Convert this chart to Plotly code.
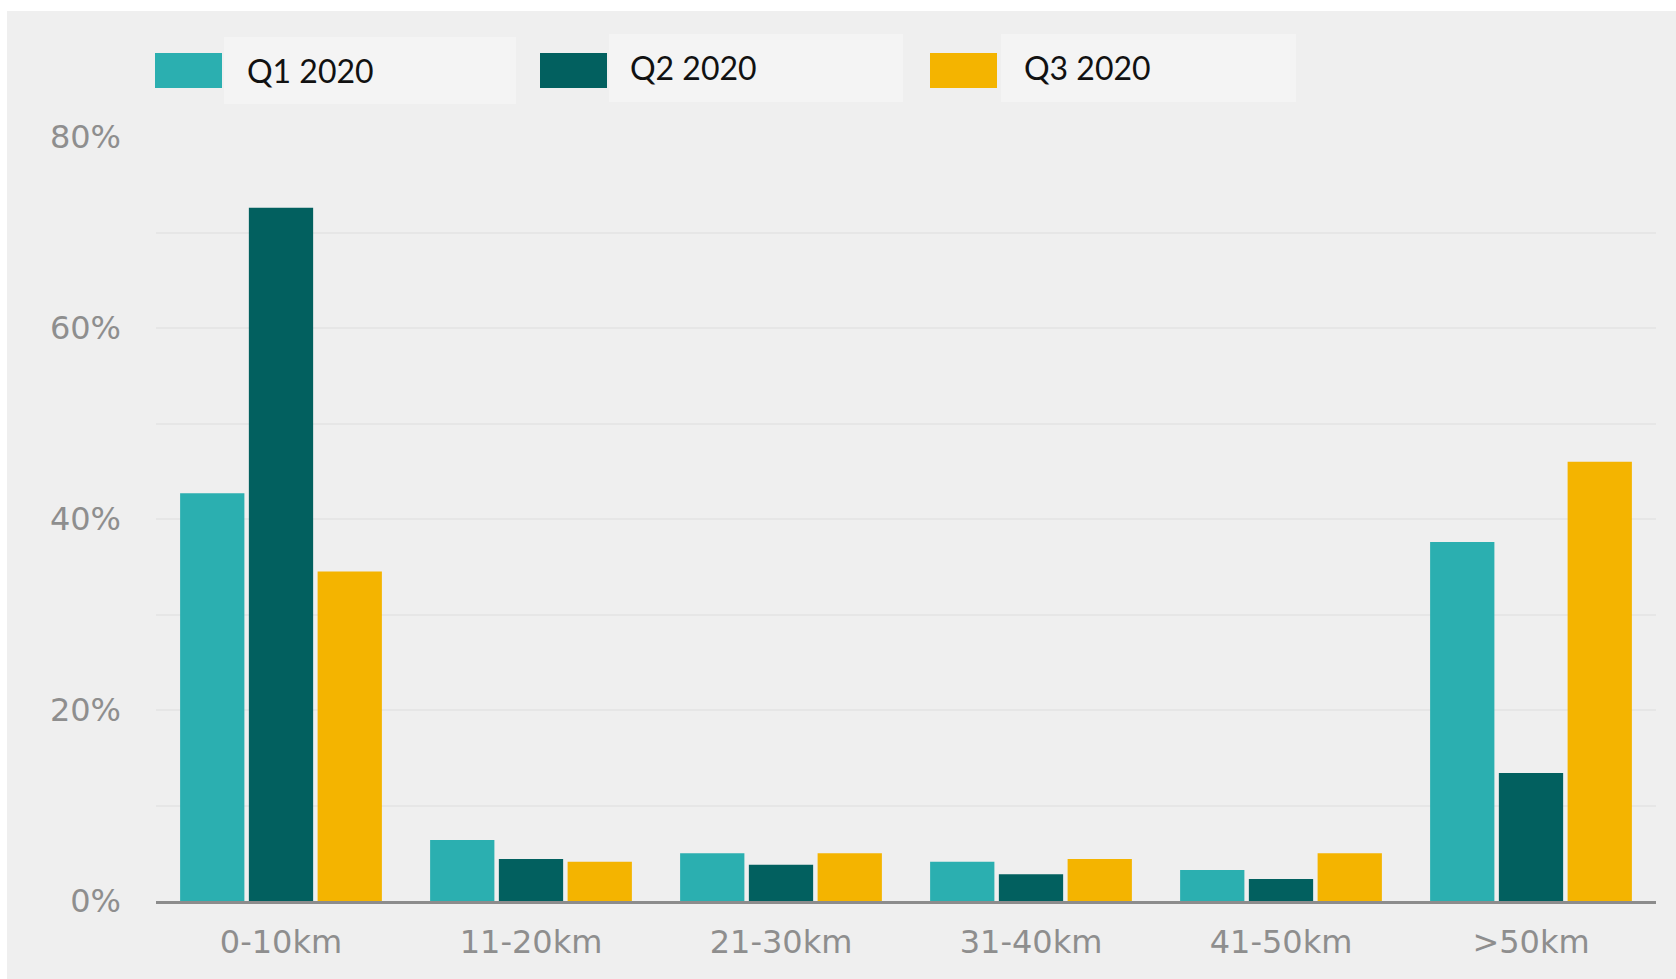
import plotly.graph_objects as go

categories = ["0-10km", "11-20km", "21-30km", "31-40km", "41-50km", ">50km"]
series_names = ["Q1 2020", "Q2 2020", "Q3 2020"]
q1_values = [42.7, 6.4, 5.0, 4.1, 3.25, 37.6]
q2_values = [72.6, 4.4, 3.8, 2.8, 2.3, 13.4]
q3_values = [34.5, 4.1, 5.0, 4.4, 5.0, 46.0]
colors = ["#2BAFB0", "#02605F", "#F4B400"]
y_tickvals = [0, 20, 40, 60, 80]
y_ticktext = ["0%", "20%", "40%", "60%", "80%"]

W, H = 1676, 979
ML, MR, MT, MB = 156, 20, 137, 78
PW, PH = W - ML - MR, H - MT - MB

AXIS_FONT = dict(family="DejaVu Sans, Inter, sans-serif", size=32, color="#8E8E8E")


def xp(px):
    return (px - ML) / PW


def yp(py):
    return (H - MB - py) / PH


fig = go.Figure()
for name, vals, col in zip(series_names, [q1_values, q2_values, q3_values], colors):
    fig.add_trace(go.Bar(x=categories, y=vals, name=name, marker_color=col,
                         marker_line_width=0, showlegend=False))

shapes = []
# outer grey panel
shapes.append(dict(type="rect", xref="paper", yref="paper", layer="below",
                   x0=xp(7), x1=xp(W + 5), y0=yp(H + 5), y1=yp(11),
                   fillcolor="#EFEFEF", line_width=0))

annotations = []
legend_boxes = [(224, 516, 37, 104), (609, 903, 34, 102), (1001, 1296, 34, 102)]
swatch_x = [(155, 222), (540, 607), (930, 997)]
text_x = [245, 628, 1022]
text_y = [70, 67, 67]
for i, name in enumerate(series_names):
    bx0, bx1, by0, by1 = legend_boxes[i]
    shapes.append(dict(type="rect", xref="paper", yref="paper", layer="below",
                       x0=xp(bx0), x1=xp(bx1), y0=yp(by1), y1=yp(by0),
                       fillcolor="#F4F4F4", line_width=0))
    sx0, sx1 = swatch_x[i]
    shapes.append(dict(type="rect", xref="paper", yref="paper", layer="above",
                       x0=xp(sx0), x1=xp(sx1), y0=yp(88), y1=yp(53),
                       fillcolor=colors[i], line_width=0))
    annotations.append(dict(text=name, xref="paper", yref="paper",
                            x=xp(text_x[i]), y=yp(text_y[i]),
                            xanchor="left", yanchor="middle", showarrow=False,
                            font=dict(family="Lato, Carlito, sans-serif", size=32, color="#111111")))

fig.update_layout(
    width=W, height=H,
    margin=dict(l=ML, r=MR, t=MT, b=MB, pad=0),
    paper_bgcolor="white",
    plot_bgcolor="rgba(0,0,0,0)",
    barmode="group",
    bargap=0.175,
    bargroupgap=0.065,
    shapes=shapes,
    annotations=annotations,
    font=AXIS_FONT,
    showlegend=False,
)
fig.update_xaxes(
    type="category", range=[-0.5, 5.5],
    showgrid=False, showline=True, linecolor="#8C8C8C", linewidth=2.5,
    ticks="", ticklabelstandoff=11,
    tickfont=AXIS_FONT,
)
fig.update_yaxes(
    range=[0, 80], tickvals=y_tickvals, ticktext=y_ticktext,
    showgrid=True, gridcolor="#E6E6E6", gridwidth=1.5,
    minor=dict(dtick=10, showgrid=True, gridcolor="#E6E6E6", gridwidth=1.5),
    zeroline=False, showline=False, ticks="", ticklabelstandoff=34,
    tickfont=AXIS_FONT,
)

fig.write_html("out.html")
